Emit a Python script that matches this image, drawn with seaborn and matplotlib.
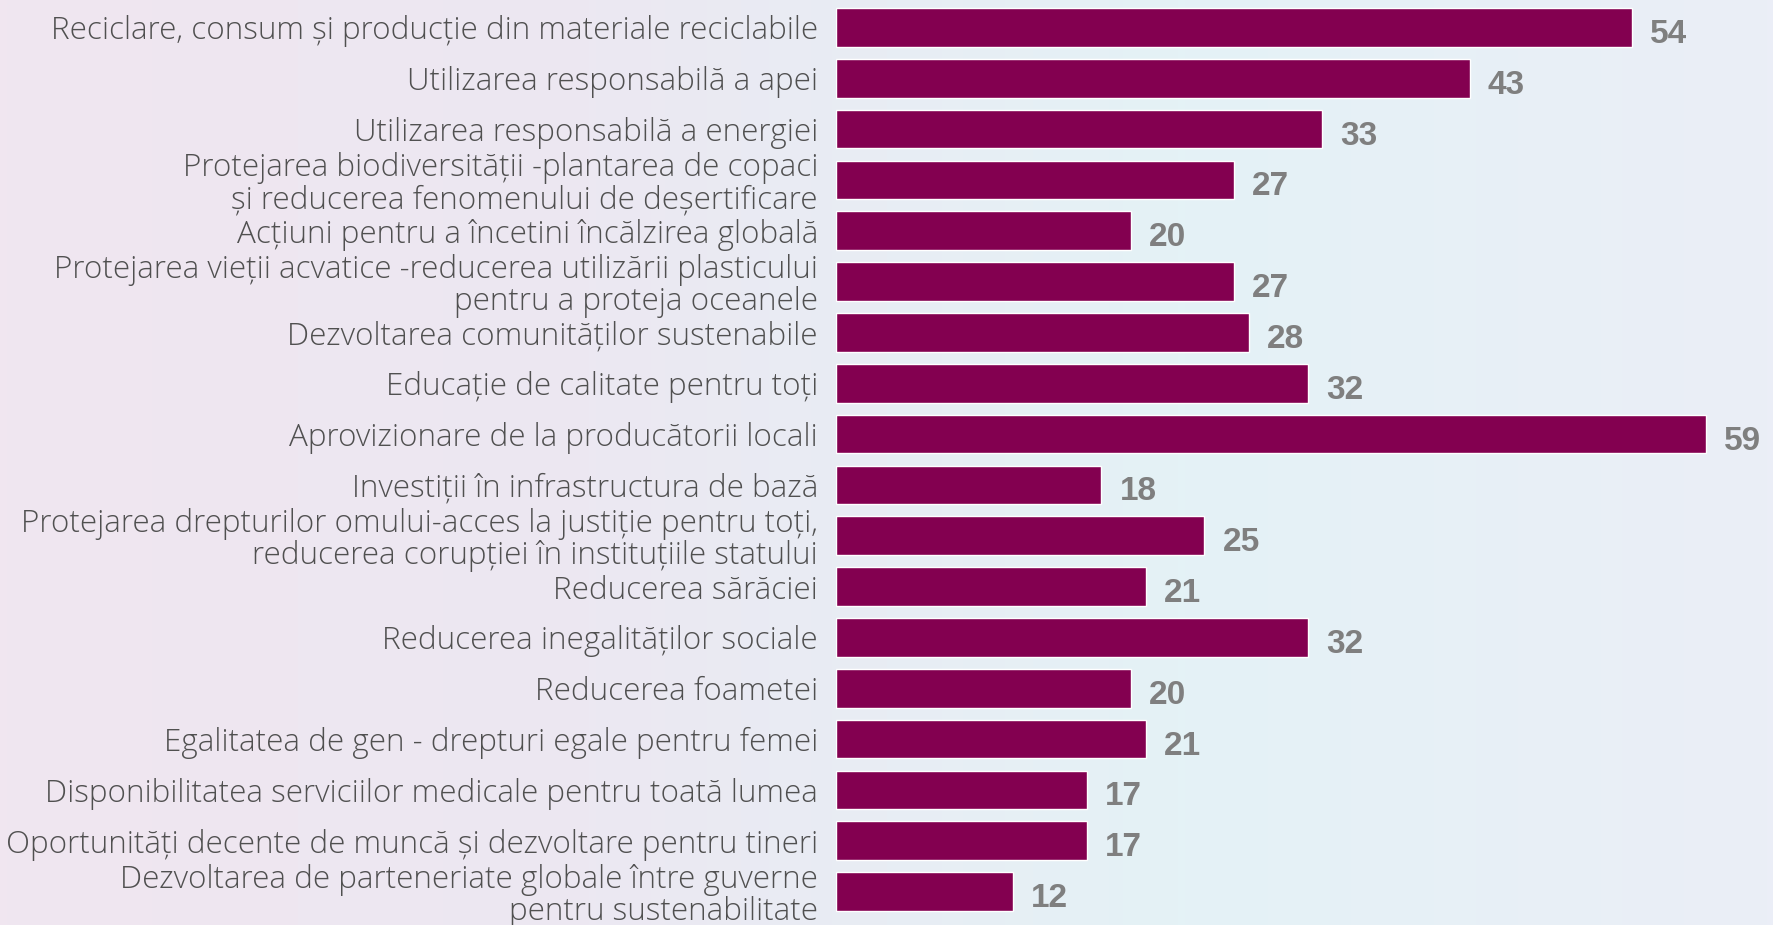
import matplotlib
matplotlib.use("Agg")
import matplotlib.pyplot as plt
import seaborn as sns
import numpy as np
import pandas as pd
from matplotlib.colors import LinearSegmentedColormap

categories = [
    "Reciclare, consum și producție din materiale reciclabile",
    "Utilizarea responsabilă a apei",
    "Utilizarea responsabilă a energiei",
    "Protejarea biodiversității -plantarea de copaci\nși reducerea fenomenului de deșertificare",
    "Acțiuni pentru a încetini încălzirea globală",
    "Protejarea vieții acvatice -reducerea utilizării plasticului\npentru a proteja oceanele",
    "Dezvoltarea comunităților sustenabile",
    "Educație de calitate pentru toți",
    "Aprovizionare de la producătorii locali",
    "Investiții în infrastructura de bază",
    "Protejarea drepturilor omului-acces la justiție pentru toți,\nreducerea corupției în instituțiile statului",
    "Reducerea sărăciei",
    "Reducerea inegalităților sociale",
    "Reducerea foametei",
    "Egalitatea de gen - drepturi egale pentru femei",
    "Disponibilitatea serviciilor medicale pentru toată lumea",
    "Oportunități decente de muncă și dezvoltare pentru tineri",
    "Dezvoltarea de parteneriate globale între guverne\npentru sustenabilitate",
]
values = [54, 43, 33, 27, 20, 27, 28, 32, 59, 18, 25, 21, 32, 20, 21, 17, 17, 12]

df = pd.DataFrame({"cat": categories, "val": values})

sns.set_theme(style="white")
plt.rcParams["font.family"] = ["Open Sans", "DejaVu Sans"]

W, H = 1774, 925
fig = plt.figure(figsize=(W / 100, H / 100), dpi=100)

# background gradient
bg = fig.add_axes([0, 0, 1, 1], zorder=0)
cmap = LinearSegmentedColormap.from_list("bg", ["#f0e6f0", "#ece8f2", "#e4f2f6", "#ebeef7"])
grad = np.linspace(0, 1, 256).reshape(1, -1)
bg.imshow(grad, aspect="auto", cmap=cmap, extent=[0, 1, 0, 1])
bg.set_axis_off()

ax = fig.add_axes([836 / W, 8 / H, 1 - 836 / W, (917 - 2) / H], zorder=1)
ax.patch.set_alpha(0)
sns.barplot(data=df, x="val", y="cat", orient="h", color="#830050",
            width=0.76, saturation=1, ax=ax)

ax.set_xlim(0, (W - 836) / 14.74)
ax.set_ylim(len(categories) - 0.5, -0.5)
ax.set_xlabel("")
ax.set_ylabel("")
ax.set_xticks([])
for s in ax.spines.values():
    s.set_visible(False)

ax.tick_params(axis="y", length=0, pad=13)
labels = ax.get_yticklabels()
for t in labels:
    t.set_fontsize(22)
    t.set_color("#505050")
    t.set_fontweight("light")
    t.set_linespacing(1.02)

# scale label font so the widest label spans ~810 px like the reference
renderer = fig.canvas.get_renderer()
widest = max(t.get_window_extent(renderer).width for t in labels)
newsize = 22 * 810 / widest
for t in labels:
    t.set_fontsize(newsize)

for i, v in enumerate(values):
    ax.annotate(str(v), xy=(v, i), xytext=(13, -5), textcoords="offset points",
                ha="left", va="center", fontsize=24, fontweight="bold",
                color="#7f7f7f", family="Liberation Sans")

fig.savefig("out.png", dpi=100)
